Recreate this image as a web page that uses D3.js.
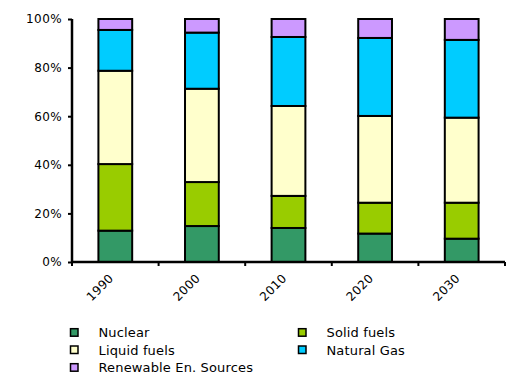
<!DOCTYPE html>
<html><head><meta charset="utf-8">
<script src="https://cdn.jsdelivr.net/npm/d3@7"></script>
<style>body{margin:0;background:#fff}svg{display:block}text{font-family:"DejaVu Sans",Verdana,sans-serif;fill:#000}</style>
</head><body>
<svg id="c" width="510" height="383"></svg>
<script>
const years = ["1990","2000","2010","2020","2030"];
const seriesNames = ["Nuclear","Solid fuels","Liquid fuels","Natural Gas","Renewable En. Sources"];
const nuclear = [12.9, 14.8, 14.0, 11.7, 9.6];
const solidFuels = [27.4, 18.1, 13.2, 12.7, 14.8];
const liquidFuels = [38.4, 38.4, 37.0, 35.7, 35.0];
const naturalGas = [16.8, 23.1, 28.4, 32.1, 32.0];
const renewable = [4.5, 5.6, 7.4, 7.8, 8.6];
const yTicks = [0, 20, 40, 60, 80, 100];
const colors = ["#339966","#99CC00","#FFFFCC","#00CCFF","#CC99FF"];

const seriesValues = [nuclear, solidFuels, liquidFuels, naturalGas, renewable];
const table = years.map((y,i)=>{const o={year:y}; seriesNames.forEach((s,j)=>o[s]=seriesValues[j][i]); return o;});
const stack = d3.stack().keys(seriesNames).offset(d3.stackOffsetExpand)(table);

const svg = d3.select("#c");
const L=72, R=505, T=19, B=262;
const x = d3.scaleBand().domain(years).range([L,R]).padding(0);
const y = d3.scaleLinear().domain([0,1]).range([B,T]);
const bw = x.bandwidth()*0.39;

// bars
stack.forEach((layer,j)=>{
  svg.append("g").selectAll("rect").data(layer).join("rect")
    .attr("x", d=>x(d.data.year)+x.bandwidth()/2-bw/2)
    .attr("y", d=>y(d[1]))
    .attr("width", bw)
    .attr("height", d=>y(d[0])-y(d[1]))
    .attr("fill", colors[j])
    .attr("stroke","#000").attr("stroke-width",2);
});

// y axis
const yAxis = svg.append("g").attr("transform",`translate(${L},0)`)
  .call(d3.axisLeft(y).tickValues(yTicks.map(v=>v/100)).tickFormat(d=>Math.round(d*100)+"%").tickSize(4).tickPadding(6));
yAxis.select(".domain").attr("stroke","#000").attr("stroke-width",2.5).attr("d",`M0,${T}V${B}`);
yAxis.selectAll(".tick line").attr("stroke","#000").attr("stroke-width",2);
yAxis.selectAll("text").style("font-size","12px").style("letter-spacing","0.4px");

// x axis
const xg = svg.append("g");
xg.append("line").attr("x1",L).attr("x2",R).attr("y1",B).attr("y2",B).attr("stroke","#000").attr("stroke-width",2.5);
const bounds = years.map(d=>x(d)).concat([R]);
xg.selectAll("line.t").data(bounds).join("line").attr("class","t")
  .attr("x1",d=>d).attr("x2",d=>d).attr("y1",B).attr("y2",B+4).attr("stroke","#000").attr("stroke-width",2);
xg.selectAll("text").data(years).join("text")
  .attr("transform",d=>`translate(${x(d)+x.bandwidth()/2-4},${B+14}) rotate(-45)`)
  .attr("text-anchor","end").attr("dy","0.35em")
  .style("font-size","12px").style("letter-spacing","0.4px")
  .text(d=>d);

// legend
const legendPos = [[70,332.7],[298,332.7],[70,350],[298,350],[70,367.7]];
seriesNames.forEach((s,j)=>{
  const [lx,ly]=legendPos[j];
  svg.append("rect").attr("x",lx+0.5).attr("y",ly-4).attr("width",7.5).attr("height",7.5)
    .attr("fill",colors[j]).attr("stroke","#000").attr("stroke-width",1.5);
  svg.append("text").attr("x",lx+28.5).attr("y",ly).attr("dy","0.35em")
    .style("font-size","13px").style("letter-spacing","0.15px").text(s);
});
</script>
</body></html>
